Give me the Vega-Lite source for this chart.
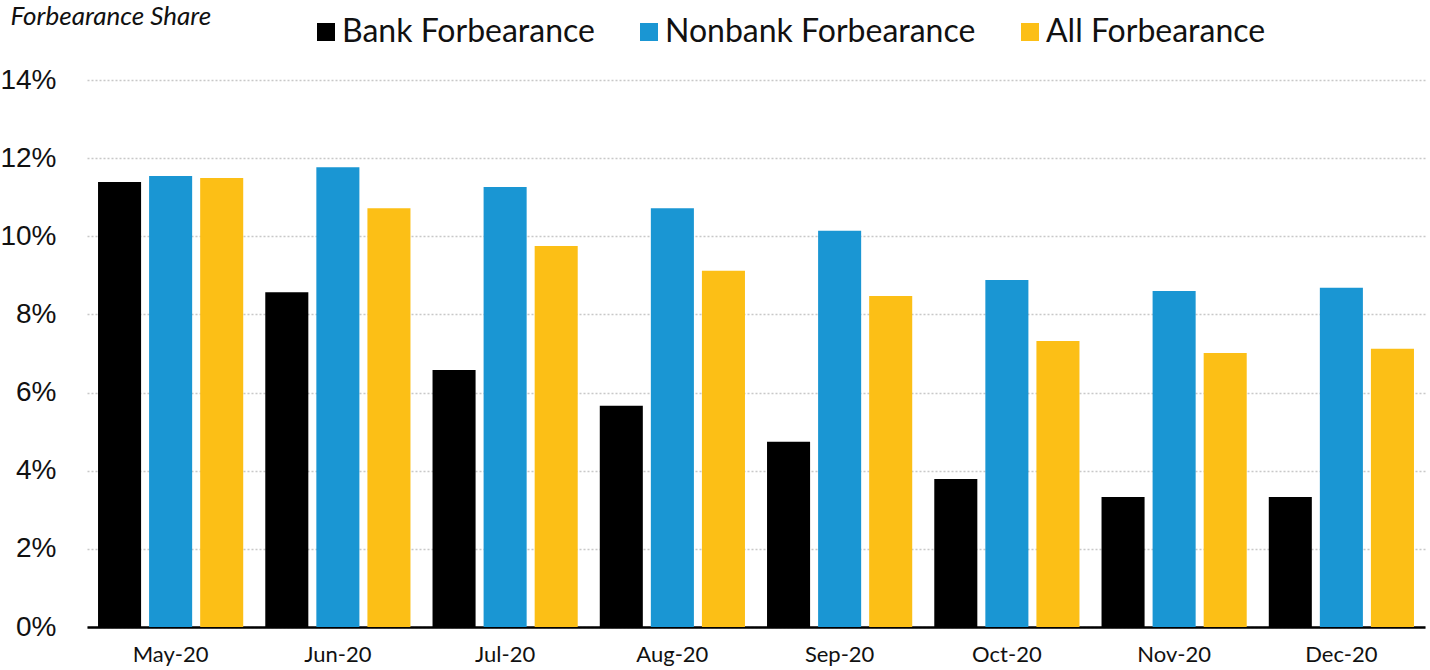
{
  "$schema": "https://vega.github.io/schema/vega-lite/v6.json",
  "width": 1338,
  "height": 547,
  "autosize": {"type": "none"},
  "padding": {"left": 87, "top": 80, "right": 5, "bottom": 43},
  "background": "white",
  "config": {"view": {"stroke": null}},
  "data": {
    "values": [
      {"month": "May-20", "type": "Bank Forbearance", "value": 11.39},
      {"month": "May-20", "type": "Nonbank Forbearance", "value": 11.54},
      {"month": "May-20", "type": "All Forbearance", "value": 11.49},
      {"month": "Jun-20", "type": "Bank Forbearance", "value": 8.57},
      {"month": "Jun-20", "type": "Nonbank Forbearance", "value": 11.77},
      {"month": "Jun-20", "type": "All Forbearance", "value": 10.72},
      {"month": "Jul-20", "type": "Bank Forbearance", "value": 6.58},
      {"month": "Jul-20", "type": "Nonbank Forbearance", "value": 11.26},
      {"month": "Jul-20", "type": "All Forbearance", "value": 9.75},
      {"month": "Aug-20", "type": "Bank Forbearance", "value": 5.66},
      {"month": "Aug-20", "type": "Nonbank Forbearance", "value": 10.72},
      {"month": "Aug-20", "type": "All Forbearance", "value": 9.12},
      {"month": "Sep-20", "type": "Bank Forbearance", "value": 4.74},
      {"month": "Sep-20", "type": "Nonbank Forbearance", "value": 10.14},
      {"month": "Sep-20", "type": "All Forbearance", "value": 8.47},
      {"month": "Oct-20", "type": "Bank Forbearance", "value": 3.79},
      {"month": "Oct-20", "type": "Nonbank Forbearance", "value": 8.88},
      {"month": "Oct-20", "type": "All Forbearance", "value": 7.32},
      {"month": "Nov-20", "type": "Bank Forbearance", "value": 3.33},
      {"month": "Nov-20", "type": "Nonbank Forbearance", "value": 8.6},
      {"month": "Nov-20", "type": "All Forbearance", "value": 7.01},
      {"month": "Dec-20", "type": "Bank Forbearance", "value": 3.33},
      {"month": "Dec-20", "type": "Nonbank Forbearance", "value": 8.68},
      {"month": "Dec-20", "type": "All Forbearance", "value": 7.12}
    ]
  },
  "mark": {"type": "bar"},
  "encoding": {
    "x": {
      "field": "month",
      "type": "nominal",
      "sort": ["May-20", "Jun-20", "Jul-20", "Aug-20", "Sep-20", "Oct-20", "Nov-20", "Dec-20"],
      "scale": {"paddingInner": 0, "paddingOuter": 0},
      "axis": {
        "title": null,
        "labelAngle": 0,
        "ticks": false,
        "labelFont": "Lato",
        "labelFontSize": 22,
        "labelColor": "#111111",
        "labelPadding": 17,
        "domainColor": "#000000",
        "domainWidth": 2.5,
        "grid": false
      }
    },
    "xOffset": {
      "field": "type",
      "type": "nominal",
      "sort": ["Bank Forbearance", "Nonbank Forbearance", "All Forbearance"],
      "scale": {"paddingInner": 0.157, "paddingOuter": 0.216}
    },
    "y": {
      "field": "value",
      "type": "quantitative",
      "scale": {"domain": [0, 14], "nice": false},
      "axis": {
        "values": [0, 2, 4, 6, 8, 10, 12, 14],
        "labelExpr": "datum.value + '%'",
        "domain": false,
        "ticks": false,
        "labelFont": "Liberation Sans",
        "labelFontSize": 28,
        "labelColor": "#111111",
        "labelPadding": 31,
        "gridColor": "#c8c8c8",
        "gridDash": [2, 2],
        "gridWidth": 1.5,
        "title": "Forbearance Share",
        "titleAngle": 0,
        "titleAlign": "left",
        "titleBaseline": "middle",
        "titleX": -77,
        "titleY": -64,
        "titleFont": "Lato",
        "titleFontStyle": "italic",
        "titleFontWeight": "normal",
        "titleFontSize": 26,
        "titleColor": "#111111"
      }
    },
    "color": {
      "field": "type",
      "type": "nominal",
      "scale": {
        "domain": ["Bank Forbearance", "Nonbank Forbearance", "All Forbearance"],
        "range": ["#000000", "#1a96d3", "#fcbf16"]
      },
      "legend": {
        "title": null,
        "orient": "none",
        "direction": "horizontal",
        "legendX": 223,
        "legendY": -64,
        "symbolType": "square",
        "symbolSize": 324,
        "symbolStrokeWidth": 0,
        "labelFont": "Lato",
        "labelFontSize": 32,
        "labelColor": "#111111",
        "labelOffset": 0,
        "labelLimit": 1000,
        "columnPadding": 38
      }
    }
  }
}
